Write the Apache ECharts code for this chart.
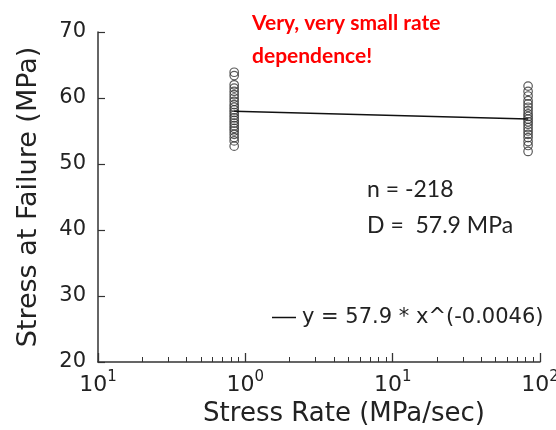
<!DOCTYPE html>
<html><head><meta charset="utf-8">
<script src="https://cdn.jsdelivr.net/npm/echarts@6/dist/echarts.min.js"></script>
<style>html,body{margin:0;padding:0;background:#fff}#c{width:556px;height:430px}</style>
</head><body><div id="c"></div>
<script>
// ---- data ----
const lowRate = 0.84;   // MPa/sec
const highRate = 83;    // MPa/sec
const lowRateStress = [63.9, 63.4, 62.0, 61.5, 61.0, 60.5, 60.0, 59.5, 59.0, 58.6, 58.2, 57.8, 57.4, 57.0, 56.6, 56.2, 55.8, 55.4, 55.0, 54.5, 54.0, 53.5, 52.7];
const highRateStress = [61.8, 61.0, 60.3, 59.6, 59.1, 58.6, 58.1, 57.6, 57.2, 56.8, 56.4, 56.0, 55.5, 55.0, 54.5, 54.0, 53.4, 52.8, 51.9];
const fitRates = [0.84, 83];
const fitStress = [58.0, 56.8];
const fitLabel = 'y = 57.9 * x^(-0.0046)';
const xMajorTicks = [0.1, 1, 10, 100];
const xTickExponents = ['1', '0', '1', '2'];
const xMinorTicks = [0.2,0.3,0.4,0.5,0.6,0.7,0.8,0.9,2,3,4,5,6,7,8,9,20,30,40,50,60,70,80,90];
const yMin = 20, yMax = 70, yStep = 10;
const xName = 'Stress Rate (MPa/sec)';
const yName = 'Stress at Failure (MPa)';
const noteRed = 'Very, very small rate\ndependence!';
const noteN = 'n = -218';
const noteD = 'D =  57.9 MPa';

const chart = echarts.init(document.getElementById('c'), null, {renderer: 'canvas'});
const axisColor = '#333';
const textColor = '#222';
const sans = '"DejaVu Sans", Verdana, sans-serif';

const option = {
  animation: false,
  backgroundColor: '#fff',
  grid: {left: 98, right: 16, top: 32, bottom: 68, containLabel: false, outerBoundsMode: 'none'},
  legend: {
    data: [{name: fitLabel, icon: 'rect'}],
    left: 267, top: 302,
    itemWidth: 24, itemHeight: 1.5, itemGap: 5,
    textStyle: {fontFamily: sans, fontSize: 21, color: textColor, padding: [0,0,0,1]}
  },
  xAxis: [{
    type: 'log', logBase: 10, min: 0.1, max: 100, splitNumber: 3,
    name: xName, nameLocation: 'middle', nameGap: 38,
    nameTextStyle: {fontFamily: sans, fontSize: 26, color: textColor, padding: [0,0,0,50]},
    axisLine: {show: true, lineStyle: {color: axisColor, width: 1.5}},
    axisTick: {show: true, inside: true, length: 9, lineStyle: {color: axisColor, width: 1.3}},
    splitLine: {show: false},
    minorTick: {show: false},
    axisLabel: {
      customValues: xMajorTicks, margin: 8,
      formatter: function (v) {
        let idx = 0, best = Infinity;
        xMajorTicks.forEach(function (t, i) { const d = Math.abs(Math.log10(t) - Math.log10(v)); if (d < best) { best = d; idx = i; } });
        return '{b|10}{s|' + xTickExponents[idx] + '}';
      },
      rich: {
        b: {fontFamily: sans, fontSize: 22, color: textColor, lineHeight: 26, verticalAlign: 'bottom'},
        s: {fontFamily: sans, fontSize: 15, color: textColor, lineHeight: 26, verticalAlign: 'top', padding: [0,0,8,0]}
      }
    }
  }, {
    type: 'log', logBase: 10, min: 0.1, max: 100, position: 'bottom',
    axisLine: {show: false},
    axisTick: {show: true, inside: true, length: 5, customValues: xMinorTicks, lineStyle: {color: axisColor, width: 1}},
    axisLabel: {show: false},
    splitLine: {show: false}
  }],
  yAxis: {
    type: 'value', min: yMin, max: yMax, interval: yStep,
    name: yName, nameLocation: 'middle', nameGap: 56,
    nameTextStyle: {fontFamily: sans, fontSize: 27, color: textColor},
    axisLine: {show: true, lineStyle: {color: axisColor, width: 1.5}},
    axisTick: {show: true, inside: true, length: 7, lineStyle: {color: axisColor, width: 1.2}},
    splitLine: {show: false},
    axisLabel: {fontFamily: sans, fontSize: 21, color: textColor, margin: 12}
  },
  series: [{
    name: 'low', type: 'scatter', xAxisIndex: 0,
    data: lowRateStress.map(function (s) { return [lowRate, s]; }),
    symbol: 'circle', symbolSize: 8.5,
    itemStyle: {color: 'rgba(0,0,0,0)', borderColor: '#333', borderWidth: 1.2}
  }, {
    name: 'high', type: 'scatter', xAxisIndex: 0,
    data: highRateStress.map(function (s) { return [highRate, s]; }),
    symbol: 'circle', symbolSize: 8.5,
    itemStyle: {color: 'rgba(0,0,0,0)', borderColor: '#333', borderWidth: 1.2}
  }, {
    name: fitLabel, type: 'line', xAxisIndex: 0,
    data: fitRates.map(function (r, i) { return [r, fitStress[i]]; }),
    showSymbol: false, symbol: 'none',
    lineStyle: {color: '#111', width: 1.5},
    itemStyle: {color: '#111'}
  }],
  graphic: [{
    type: 'text', left: 252, top: 7,
    style: {text: noteRed, fill: '#ff0000', font: 'bold 21px Lato, "Open Sans", sans-serif', lineHeight: 33}
  }, {
    type: 'text', left: 367, top: 178,
    style: {text: noteN, fill: textColor, font: '23px Lato, "Open Sans", sans-serif'}
  }, {
    type: 'text', left: 367, top: 214,
    style: {text: noteD, fill: textColor, font: '23px Lato, "Open Sans", sans-serif'}
  }]
};
chart.setOption(option);
</script>
</body></html>
